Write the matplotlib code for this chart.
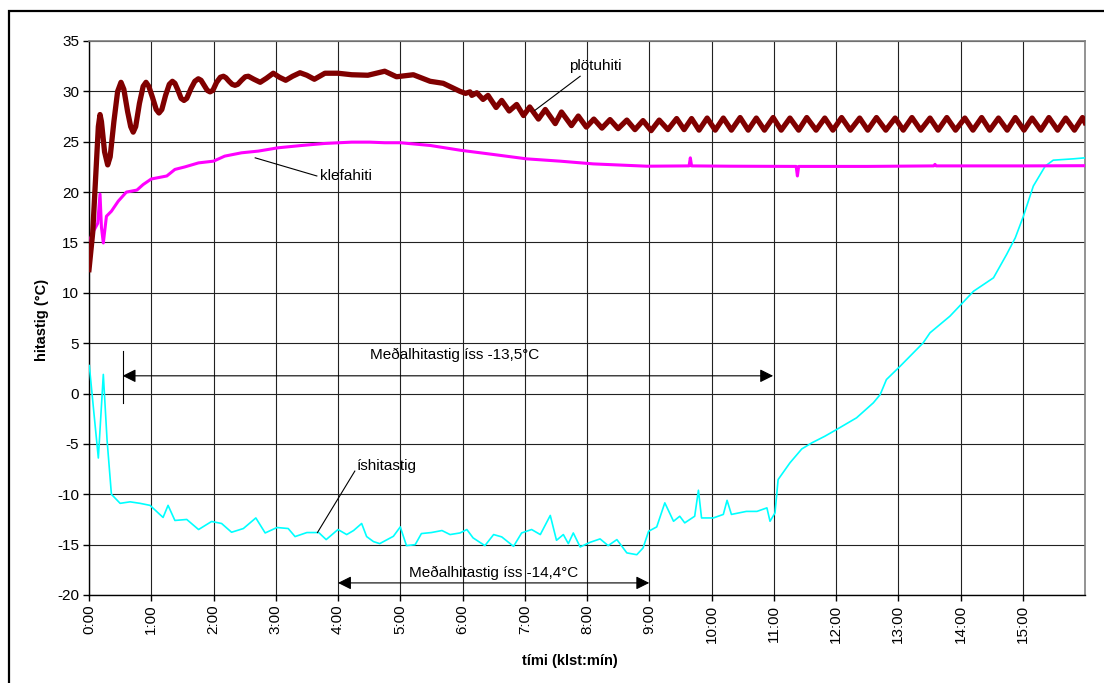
import matplotlib
matplotlib.use("Agg")
import matplotlib.pyplot as plt
from matplotlib.patches import Rectangle

plt.rcParams['font.family'] = ['Liberation Sans', 'DejaVu Sans']

# ---- data (time in hours, temperature in °C) ----
plata_t = [0.00, 0.06, 0.12, 0.15, 0.177, 0.20, 0.25, 0.30, 0.34, 0.40, 0.46, 0.514,
           0.56, 0.62, 0.67, 0.71, 0.75, 0.81, 0.87, 0.916, 0.96, 1.02, 1.08, 1.124,
           1.17, 1.23, 1.29, 1.34, 1.38, 1.43, 1.48, 1.526, 1.57, 1.64, 1.70, 1.756,
           1.80, 1.85, 1.90, 1.944, 1.99, 2.05, 2.11, 2.16, 2.20, 2.25, 2.30, 2.345,
           2.39, 2.45, 2.51, 2.56, 2.65, 2.75, 2.85, 2.96, 3.06, 3.16, 3.27, 3.39,
           3.50, 3.62, 3.79, 4.00, 4.22, 4.48, 4.75, 4.94, 5.21, 5.48, 5.69, 5.96,
           6.05, 6.12, 6.15, 6.23, 6.33, 6.41, 6.54, 6.63, 6.75, 6.87, 6.98, 7.08,
           7.22, 7.33, 7.49, 7.59, 7.75, 7.86, 7.99, 8.11, 8.24, 8.37, 8.50, 8.64,
           8.77, 8.90, 9.03, 9.16, 9.30, 9.44, 9.56, 9.68, 9.80, 9.93, 10.06, 10.19,
           10.32, 10.46, 10.59, 10.72, 10.85, 10.99, 11.12, 11.26, 11.40, 11.53, 11.68,
           11.82, 11.95, 12.09, 12.23, 12.38, 12.51, 12.65, 12.80, 12.95, 13.08, 13.22,
           13.36, 13.51, 13.64, 13.78, 13.92, 14.07, 14.20, 14.34, 14.47, 14.61, 14.75,
           14.88, 15.02, 15.15, 15.29, 15.42, 15.56, 15.69, 15.83, 15.96, 16.00]
plata_v = [12.3, 16.0, 23.0, 26.5, 27.7, 27.0, 24.0, 22.7, 23.5, 27.0, 30.0, 30.9,
           30.2, 28.0, 26.5, 25.95, 26.5, 28.8, 30.5, 30.9, 30.5, 29.4, 28.2, 27.85,
           28.2, 29.6, 30.7, 31.0, 30.8, 30.1, 29.3, 29.1, 29.3, 30.3, 31.0, 31.25,
           31.1, 30.6, 30.1, 29.95, 30.1, 30.9, 31.4, 31.5, 31.35, 31.0, 30.7, 30.6,
           30.7, 31.1, 31.45, 31.5, 31.2, 30.9, 31.3, 31.8, 31.4, 31.1, 31.5, 31.85,
           31.6, 31.2, 31.8, 31.8, 31.65, 31.6, 32.0, 31.45, 31.65, 31.0, 30.8, 30.0,
           29.8, 29.95, 29.6, 29.86, 29.2, 29.6, 28.4, 29.1, 28.05, 28.7, 27.6, 28.45,
           27.25, 28.2, 26.8, 27.95, 26.6, 27.55, 26.45, 27.25, 26.35, 27.2, 26.3, 27.15,
           26.2, 27.1, 26.1, 27.15, 26.2, 27.3, 26.2, 27.3, 26.15, 27.35, 26.15, 27.35,
           26.15, 27.4, 26.15, 27.35, 26.15, 27.4, 26.15, 27.35, 26.15, 27.4, 26.15,
           27.35, 26.15, 27.4, 26.15, 27.35, 26.15, 27.4, 26.15, 27.35, 26.15, 27.4,
           26.15, 27.35, 26.15, 27.4, 26.15, 27.35, 26.15, 27.4, 26.15, 27.35, 26.15,
           27.4, 26.15, 27.35, 26.15, 27.4, 26.15, 27.35, 26.15, 27.4, 26.9]

klefi_t = [0.00, 0.08, 0.14, 0.177, 0.20, 0.23, 0.28, 0.36, 0.47, 0.60, 0.77, 0.87,
           1.00, 1.25, 1.38, 1.54, 1.76, 2.00, 2.18, 2.45, 2.72, 3.04, 3.42, 3.79,
           4.22, 4.51, 4.75, 5.00, 5.48, 5.96, 6.50, 7.03, 7.57, 8.10, 8.96, 9.64,
           9.66, 9.68, 10.30, 11.36, 11.38, 11.40, 12.50, 13.57, 13.59, 13.61, 15.00, 16.00]
klefi_v = [15.1, 16.2, 16.9, 19.8, 16.5, 14.95, 17.6, 18.1, 19.1, 20.0, 20.2, 20.75,
           21.3, 21.6, 22.25, 22.5, 22.9, 23.07, 23.57, 23.9, 24.07, 24.4, 24.63, 24.83,
           24.96, 24.96, 24.9, 24.9, 24.63, 24.16, 23.73, 23.3, 23.07, 22.8, 22.57, 22.6,
           23.4, 22.6, 22.57, 22.55, 21.6, 22.55, 22.55, 22.6, 22.75, 22.6, 22.6, 22.62]

is_t = [0.005, 0.08, 0.15, 0.23, 0.29, 0.36, 0.50, 0.66, 0.82, 0.98, 1.19, 1.27,
        1.38, 1.57, 1.76, 1.97, 2.13, 2.29, 2.48, 2.68, 2.83, 3.02, 3.20, 3.31,
        3.50, 3.69, 3.81, 4.00, 4.14, 4.25, 4.38, 4.46, 4.57, 4.67, 4.89, 5.00,
        5.10, 5.24, 5.34, 5.50, 5.67, 5.80, 5.96, 6.07, 6.17, 6.36, 6.50, 6.63,
        6.82, 6.95, 7.11, 7.25, 7.41, 7.51, 7.62, 7.70, 7.78, 7.89, 8.05, 8.21,
        8.34, 8.48, 8.64, 8.80, 8.90, 8.99, 9.12, 9.25, 9.39, 9.49, 9.57, 9.73,
        9.79, 9.84, 10.03, 10.19, 10.25, 10.32, 10.56, 10.73, 10.89, 10.94, 11.02,
        11.07, 11.26, 11.45, 11.61, 11.82, 12.01, 12.33, 12.60, 12.71, 12.81, 13.03,
        13.40, 13.51, 13.83, 14.21, 14.53, 14.74, 14.88, 15.01, 15.17, 15.36, 15.49,
        15.81, 16.00]
is_v = [2.78, -2.0, -6.4, 1.9, -4.6, -10.0, -10.9, -10.75, -10.9, -11.1, -12.3, -11.1,
        -12.6, -12.5, -13.5, -12.7, -12.9, -13.77, -13.4, -12.35, -13.84, -13.3, -13.4, -14.2,
        -13.8, -13.8, -14.5, -13.5, -14.0, -13.6, -12.9, -14.2, -14.7, -14.9, -14.17, -13.24,
        -15.1, -15.0, -13.9, -13.8, -13.6, -14.0, -13.84, -13.5, -14.33, -15.1, -14.0, -14.23,
        -15.17, -13.84, -13.5, -14.0, -12.1, -14.57, -14.0, -14.9, -13.84, -15.23, -14.77, -14.43,
        -15.1, -14.5, -15.82, -16.0, -15.33, -13.67, -13.24, -10.85, -12.68, -12.18, -12.84, -12.18,
        -9.6, -12.35, -12.35, -12.0, -10.6, -12.0, -11.7, -11.7, -11.35, -12.68, -11.85,
        -8.54, -6.88, -5.5, -4.9, -4.24, -3.57, -2.41, -0.92, -0.1, 1.39, 2.71,
        5.03, 6.03, 7.68, 10.16, 11.49, 13.8, 15.46, 17.6, 20.6, 22.57, 23.17,
        23.3, 23.4]

x_ticks = list(range(0, 16))
x_labels = [f"{h}:00" for h in x_ticks]
y_ticks = list(range(-20, 36, 5))
y_labels = [str(v) for v in y_ticks]

# ---- figure ----
fig = plt.figure(figsize=(11.04, 6.83), dpi=100)
ax = fig.add_axes([89/1104, 1-595/683, (1085-89)/1104, (595-41)/683])

ax.plot(is_t, is_v, color='#00FFFF', lw=1.2, zorder=3)
ax.plot(klefi_t, klefi_v, color='#FF00FF', lw=2.2, zorder=4)
ax.plot(plata_t, plata_v, color='#800000', lw=3.8, zorder=5, solid_joinstyle='round')

ax.set_xlim(0, 16)
ax.set_ylim(-20, 35)
ax.set_xticks(x_ticks)
ax.set_xticklabels(x_labels, rotation=90, fontsize=11)
ax.set_yticks(y_ticks)
ax.set_yticklabels(y_labels, fontsize=11)
ax.tick_params(direction='out', length=4, width=1, color='black', pad=3)
ax.grid(True, color='#222222', lw=0.8)
ax.set_axisbelow(True)
for s in ['left', 'bottom']:
    ax.spines[s].set_color('black')
    ax.spines[s].set_linewidth(1.0)
for s in ['top', 'right']:
    ax.spines[s].set_color('#808080')
    ax.spines[s].set_linewidth(1.2)

fig.text(42/1104, 1-320/683, 'hitastig (°C)', rotation=90, fontsize=10.5,
         fontweight='bold', ha='center', va='center')
fig.text(570/1104, 1-661/683, 'tími (klst:mín)', fontsize=10.5,
         fontweight='bold', ha='center', va='center')

# annotations
ax.text(8.13, 32.5, 'plötuhiti', fontsize=11, ha='center', va='center')
ax.plot([7.89, 7.16], [31.5, 28.1], color='black', lw=0.8, zorder=6)
ax.text(4.13, 21.55, 'klefahiti', fontsize=11, ha='center', va='center')
ax.plot([3.66, 2.67], [21.6, 23.4], color='black', lw=0.8, zorder=6)
ax.text(4.79, -7.15, 'íshitastig', fontsize=11, ha='center', va='center')
ax.plot([4.27, 3.67], [-7.7, -13.8], color='black', lw=0.8, zorder=6)

ax.text(5.88, 3.87, 'Meðalhitastig íss -13,5°C', fontsize=11, ha='center', va='center')
ax.annotate('', xy=(0.54, 1.76), xytext=(10.99, 1.76),
            arrowprops=dict(arrowstyle='<|-|>', color='black', lw=0.8,
                            mutation_scale=20, shrinkA=0, shrinkB=0))
ax.plot([0.54, 0.54], [4.2, -0.92], color='black', lw=0.8)
ax.text(6.5, -17.8, 'Meðalhitastig íss -14,4°C', fontsize=11, ha='center', va='center')
ax.annotate('', xy=(4.0, -18.8), xytext=(9.0, -18.8),
            arrowprops=dict(arrowstyle='<|-|>', color='black', lw=0.8,
                            mutation_scale=20, shrinkA=0, shrinkB=0))

# outer frame (left and top edges visible)
fig.patches.append(Rectangle((9/1104, -0.2), 1.2, 1.2 - 11/683, transform=fig.transFigure,
                             fill=False, edgecolor='black', lw=1.6))

fig.savefig('out.png', dpi=100)
